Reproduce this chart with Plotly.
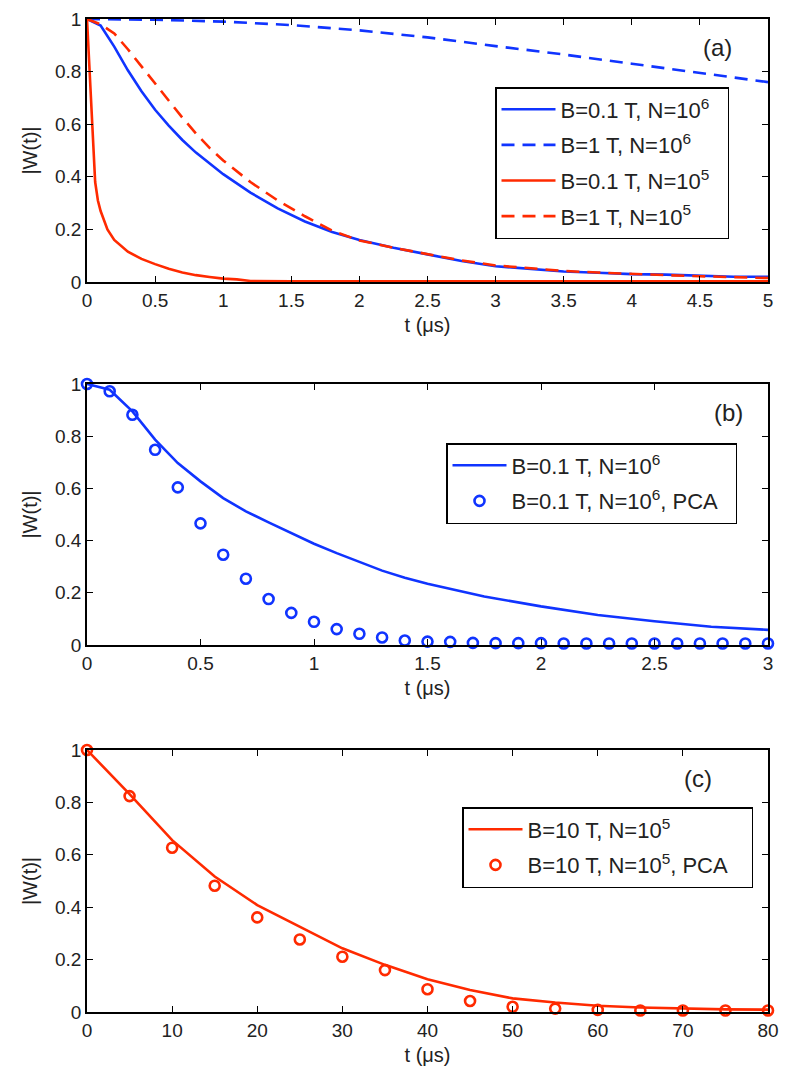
import plotly.graph_objects as go

# ---------------- data ----------------
# Panel (a)
ta_blue_solid = [0, 0.1, 0.2, 0.3, 0.4, 0.5, 0.6, 0.7, 0.8, 0.9, 1.0, 1.2, 1.4, 1.6, 1.8, 2.0,
                 2.25, 2.5, 2.75, 3.0, 3.25, 3.5, 3.75, 4.0, 4.25, 4.5, 4.75, 5.0]
wa_blue_solid = [1.0, 0.975, 0.895, 0.805, 0.725, 0.655, 0.595, 0.54, 0.492, 0.45, 0.41, 0.34,
                 0.28, 0.23, 0.19, 0.16, 0.13, 0.105, 0.08, 0.06, 0.05, 0.04, 0.035, 0.03, 0.028,
                 0.025, 0.02, 0.02]

ta_blue_dash = [0, 0.5, 1.0, 1.5, 2.0, 2.5, 3.0, 3.5, 4.0, 4.5, 5.0]
wa_blue_dash = [1.0, 0.997, 0.99, 0.977, 0.957, 0.93, 0.897, 0.865, 0.83, 0.795, 0.76]

ta_red_solid = [0, 0.01, 0.02, 0.03, 0.04, 0.05, 0.06, 0.08, 0.1, 0.15, 0.2, 0.3, 0.4, 0.5, 0.6,
                0.7, 0.8, 0.9, 1.0, 1.1, 1.2, 1.5, 2.0, 3.0, 4.0, 5.0]
wa_red_solid = [1.0, 0.9, 0.78, 0.67, 0.58, 0.47, 0.38, 0.31, 0.27, 0.2, 0.16, 0.115, 0.088, 0.068,
                0.05, 0.036, 0.026, 0.019, 0.013, 0.01, 0.004, 0.003, 0.003, 0.003, 0.003, 0.003]

ta_red_dash = [0, 0.1, 0.2, 0.3, 0.4, 0.5, 0.6, 0.7, 0.8, 0.9, 1.0, 1.2, 1.4, 1.6, 1.8, 2.0,
               2.25, 2.5, 2.75, 3.0, 3.25, 3.5, 3.75, 4.0, 4.25, 4.5, 4.75, 5.0]
wa_red_dash = [1.0, 0.98, 0.945, 0.885, 0.82, 0.755, 0.69, 0.625, 0.565, 0.51, 0.462, 0.38, 0.31,
               0.25, 0.195, 0.158, 0.13, 0.105, 0.082, 0.063, 0.052, 0.042, 0.036, 0.03, 0.026,
               0.022, 0.018, 0.015]

# Panel (b)
tb_line = [0, 0.1, 0.2, 0.3, 0.4, 0.5, 0.6, 0.7, 0.8, 0.9, 1.0, 1.1, 1.2, 1.3, 1.4, 1.5, 1.75,
           2.0, 2.25, 2.5, 2.75, 3.0]
wb_line = [1.0, 0.978, 0.895, 0.787, 0.697, 0.627, 0.563, 0.512, 0.47, 0.43, 0.388, 0.352, 0.317,
           0.285, 0.258, 0.235, 0.186, 0.148, 0.115, 0.091, 0.07, 0.058]

tb_pca = [0, 0.1, 0.2, 0.3, 0.4, 0.5, 0.6, 0.7, 0.8, 0.9, 1.0, 1.1, 1.2, 1.3, 1.4, 1.5, 1.6, 1.7,
          1.8, 1.9, 2.0, 2.1, 2.2, 2.3, 2.4, 2.5, 2.6, 2.7, 2.8, 2.9, 3.0]
wb_pca = [1.0, 0.972, 0.882, 0.748, 0.604, 0.466, 0.346, 0.254, 0.176, 0.123, 0.089, 0.061, 0.043,
          0.029, 0.017, 0.013, 0.012, 0.008, 0.007, 0.007, 0.007, 0.006, 0.006, 0.006, 0.006,
          0.006, 0.006, 0.006, 0.006, 0.006, 0.006]

# Panel (c)
tc_line = [0, 5, 10, 15, 20, 25, 30, 35, 40, 45, 50, 55, 60, 65, 70, 75, 80]
wc_line = [1.0, 0.832, 0.656, 0.517, 0.408, 0.326, 0.243, 0.18, 0.125, 0.084, 0.052, 0.036, 0.024,
           0.017, 0.013, 0.01, 0.009]

tc_pca = [0, 5, 10, 15, 20, 25, 30, 35, 40, 45, 50, 55, 60, 65, 70, 75, 80]
wc_pca = [1.0, 0.824, 0.627, 0.482, 0.361, 0.277, 0.211, 0.16, 0.087, 0.042, 0.02, 0.013, 0.008,
          0.006, 0.006, 0.006, 0.006]

# ---------------- style ----------------
BLUE = "#1034ff"
RED = "#ff2a00"
FONT = "Liberation Sans"
TXT = "#222222"
PAGE_W, PAGE_H = 789, 1076
OFF = 8                      # default page (body) margin
W, H = PAGE_W - 2 * OFF, PAGE_H - 2 * OFF
LW = 2.6
DASH = "13px,8px"
PAD2 = "&nbsp;&nbsp;"
PAD3 = "&nbsp;&nbsp;&nbsp;"

def fx(px):
    return (px - OFF) / W

def fy(py):
    return 1 - (py - OFF) / H

fig = go.Figure()

def add_line(x, y, name, color, dash, xa, ya, legend, group):
    fig.add_trace(go.Scatter(x=x, y=y, mode="lines", name=name,
                             line=dict(color=color, width=LW, dash=dash),
                             xaxis=xa, yaxis=ya, legend=legend, legendgroup=group))

def add_pts(x, y, name, color, xa, ya, legend, group):
    fig.add_trace(go.Scatter(x=x, y=y, mode="markers", name=name,
                             marker=dict(symbol="circle-open", size=10, color=color,
                                         line=dict(width=2.6, color=color)),
                             cliponaxis=False,
                             xaxis=xa, yaxis=ya, legend=legend, legendgroup=group))

add_line(ta_blue_solid, wa_blue_solid, "B=0.1 T, N=10<sup>6</sup>" + PAD2, BLUE, "solid", "x", "y", "legend", "a1")
add_line(ta_blue_dash, wa_blue_dash, "B=1 T, N=10<sup>6</sup>", BLUE, DASH, "x", "y", "legend", "a2")
add_line(ta_red_solid, wa_red_solid, "B=0.1 T, N=10<sup>5</sup>" + PAD2, RED, "solid", "x", "y", "legend", "a3")
add_line(ta_red_dash, wa_red_dash, "B=1 T, N=10<sup>5</sup>", RED, DASH, "x", "y", "legend", "a4")

add_line(tb_line, wb_line, "B=0.1 T, N=10<sup>6</sup>", BLUE, "solid", "x2", "y2", "legend2", "b1")
add_pts(tb_pca, wb_pca, "B=0.1 T, N=10<sup>6</sup>, PCA" + PAD2, BLUE, "x2", "y2", "legend2", "b2")

add_line(tc_line, wc_line, "B=10 T, N=10<sup>5</sup>", RED, "solid", "x3", "y3", "legend3", "c1")
add_pts(tc_pca, wc_pca, "B=10 T, N=10<sup>5</sup>, PCA" + PAD3, RED, "x3", "y3", "legend3", "c2")

XD = [fx(87), fx(768)]
def ydom(top, bot):
    return [fy(bot), fy(top)]

common = dict(showline=True, linecolor="black", linewidth=1.5, mirror="ticks",
              ticks="inside", ticklen=6, tickwidth=1.2, tickcolor="black",
              showgrid=False, zeroline=False, automargin=False,
              tickfont=dict(family=FONT, size=19, color=TXT))

xt = dict(text="t (μs)", font=dict(family=FONT, size=20, color=TXT), standoff=8)
yt = dict(text="|W(t)|", font=dict(family=FONT, size=20, color=TXT), standoff=12)

legend_common = dict(bgcolor="white", bordercolor="black", borderwidth=1.5,
                     font=dict(family=FONT, size=22, color=TXT),
                     xanchor="left", yanchor="top", itemwidth=54,
                     traceorder="grouped", tracegroupgap=4)

fig.update_layout(
    width=W, height=H,
    margin=dict(l=0, r=0, t=0, b=0),
    paper_bgcolor="white", plot_bgcolor="white",
    showlegend=True,
    xaxis=dict(domain=XD, range=[0, 5], dtick=0.5, anchor="y", title=xt, **common),
    yaxis=dict(domain=ydom(19, 282), range=[0, 1], dtick=0.2, anchor="x", title=yt, **common),
    xaxis2=dict(domain=XD, range=[0, 3], dtick=0.5, anchor="y2", title=xt, **common),
    yaxis2=dict(domain=ydom(384, 645), range=[0, 1], dtick=0.2, anchor="x2", title=yt, **common),
    xaxis3=dict(domain=XD, range=[0, 80], dtick=10, anchor="y3", title=xt, **common),
    yaxis3=dict(domain=ydom(750, 1012), range=[0, 1], dtick=0.2, anchor="x3", title=yt, **common),
    legend=dict(x=fx(495), y=fy(87), **legend_common),
    legend2=dict(x=fx(446), y=fy(443), **legend_common),
    legend3=dict(x=fx(462), y=fy(807), **legend_common),
)

for txt, px, py in [("(a)", 717, 48), ("(b)", 728, 412), ("(c)", 698, 778)]:
    fig.add_annotation(text=txt, x=fx(px), y=fy(py), xref="paper", yref="paper",
                       xanchor="center", yanchor="middle",
                       showarrow=False, font=dict(family=FONT, size=24, color=TXT))

fig.write_html("out.html")
